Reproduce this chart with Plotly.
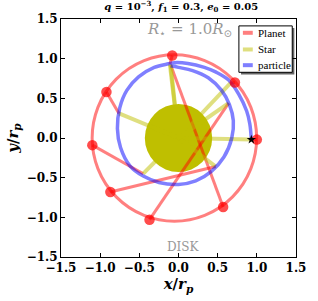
import plotly.graph_objects as go

# ---- data ----
# planet positions at the sampled times (markers)
planet_x = [1.00, 0.72, -0.08, -0.92, -1.10, -0.87, -0.37, 0.57]
planet_y = [-0.02, 0.70, 1.04, 0.58, -0.09, -0.68, -1.03, -0.87]
# particle positions at the same times
part_x = [0.93, 0.66, -0.11, -0.76, -0.45, 0.475, 0.64, -0.10]
part_y = [-0.02, 0.69, 0.93, 0.31, -0.45, -0.36, 0.44, 0.92]
# star position
star_x0, star_y0 = 0.0, 0.0
# particle trajectory
path_x = [0.93, 0.91, 0.87, 0.77, 0.64, 0.48, 0.33, 0.12, -0.05, -0.13, -0.31, -0.51,
          -0.66, -0.75, -0.78, -0.74, -0.62, -0.45, -0.25, 0.00, 0.22, 0.42, 0.58,
          0.68, 0.70, 0.65, 0.55, 0.38, 0.18, 0.00, -0.10]
path_y = [-0.02, 0.18, 0.34, 0.55, 0.73, 0.83, 0.89, 0.94, 0.95, 0.935, 0.89, 0.77,
          0.60, 0.38, 0.12, -0.12, -0.35, -0.48, -0.56, -0.585, -0.54, -0.42, -0.24,
          0.00, 0.22, 0.42, 0.60, 0.76, 0.85, 0.89, 0.91]
# orbital elements / sizes
orbit_a = 1.05
orbit_e = 0.05
star_radius = 0.43
ticks = [-1.5, -1.0, -0.5, 0.0, 0.5, 1.0, 1.5]
legend_names = ["Planet", "Star", "particle"]

RED = "rgba(255,0,0,0.5)"
YEL = "rgba(191,191,0,0.5)"
BLU = "rgba(0,0,255,0.5)"
OLIVE = "#bfbf00"
FONT = "DejaVu Serif"
LFONT = "Liberation Serif"

# spokes
red_x, red_y, yel_x, yel_y = [], [], [], []
for px, py, qx, qy in zip(planet_x, planet_y, part_x, part_y):
    red_x += [px, qx, None]
    red_y += [py, qy, None]
    yel_x += [star_x0, qx, None]
    yel_y += [star_y0, qy, None]

fig = go.Figure()
fig.add_trace(go.Scatter(x=red_x, y=red_y, mode="lines", name=legend_names[0],
                         showlegend=False, line=dict(color=RED, width=3)))
fig.add_trace(go.Scatter(x=yel_x, y=yel_y, mode="lines", name=legend_names[1],
                         showlegend=False, line=dict(color=YEL, width=4)))
fig.add_trace(go.Scatter(x=path_x, y=path_y, mode="lines", name=legend_names[2],
                         showlegend=False,
                         line=dict(color=BLU, width=3.5, shape="spline")))
fig.add_trace(go.Scatter(x=planet_x, y=planet_y, mode="markers", showlegend=False,
                         marker=dict(color="rgba(255,0,0,0.7)", size=10.5,
                                     line=dict(width=0))))
fig.add_trace(go.Scatter(x=[part_x[0]], y=[part_y[0]], mode="markers", showlegend=False,
                         marker=dict(symbol="star", color="black", size=7,
                                     line=dict(width=0))))

# planet orbit (ellipse with focus at origin) and star disk
cx = -orbit_a * orbit_e
b = orbit_a * (1 - orbit_e ** 2) ** 0.5
fig.add_shape(type="circle", xref="x", yref="y", x0=cx - orbit_a, x1=cx + orbit_a,
              y0=-b, y1=b, line=dict(color=RED, width=3), layer="below")
fig.add_shape(type="circle", xref="x", yref="y", x0=star_x0 - star_radius,
              x1=star_x0 + star_radius, y0=star_y0 - star_radius,
              y1=star_y0 + star_radius, fillcolor=OLIVE, line=dict(width=0),
              layer="below")

fig.add_annotation(x=0.14, y=1.37, xref="x", yref="y", showarrow=False,
                   text="<i>R</i><sub>⋆</sub> = 1.0<i>R</i><sub>⊙</sub>",
                   font=dict(family=FONT, size=15, color="#999999"))
fig.add_annotation(x=0.07, y=-1.37, xref="x", yref="y", showarrow=False,
                   text="DISK", font=dict(family=FONT, size=12, color="#999999"))

# legend box (matplotlib-style, with shadow)
lx0, lx1, ly0, ly1 = 0.757, 0.984, 0.776, 0.971
fig.add_shape(type="rect", xref="paper", yref="paper", x0=lx0 + 0.009, x1=lx1 + 0.009,
              y0=ly0 - 0.009, y1=ly1 - 0.009, fillcolor="rgba(0,0,0,0.6)",
              line=dict(width=0))
fig.add_shape(type="rect", xref="paper", yref="paper", x0=lx0, x1=lx1, y0=ly0, y1=ly1,
              fillcolor="white", line=dict(color="black", width=1))
for name, col, yy in zip(legend_names, [RED, YEL, BLU], [0.942, 0.872, 0.806]):
    fig.add_shape(type="line", xref="paper", yref="paper", x0=0.774, x1=0.816,
                  y0=yy, y1=yy, line=dict(color=col, width=4))
    fig.add_annotation(x=0.83, y=yy, xref="paper", yref="paper", showarrow=False,
                       xanchor="left", yanchor="middle", text=name,
                       font=dict(family=LFONT, size=11, color="black"))

axis_common = dict(range=[-1.5, 1.5], tickvals=ticks, tickformat=".1f",
                   showgrid=False, zeroline=False, showline=True, linecolor="black",
                   linewidth=1, mirror="allticks", ticks="inside", ticklen=4,
                   tickcolor="black",
                   tickfont=dict(family=FONT, size=12, color="black", weight="bold"))
fig.update_xaxes(**axis_common,
                 title=dict(text="<b><i>x</i>/<i>r</i><sub><i>p</i></sub></b>",
                            font=dict(family=FONT, size=15, color="black"), standoff=2))
fig.update_yaxes(**axis_common,
                 title=dict(text="<b><i>y</i>/<i>r</i><sub><i>p</i></sub></b>",
                            font=dict(family=FONT, size=15, color="black"), standoff=4))

fig.update_layout(
    width=318, height=301,
    margin=dict(l=60, r=15, t=16, b=44),
    paper_bgcolor="white", plot_bgcolor="white",
    title=dict(text="<b><i>q</i> = 10<sup>−3</sup>, <i>f</i><sub>1</sub> = 0.3, <i>e</i><sub>0</sub> = 0.05</b>",
               x=0.57, xanchor="center", y=0.99, yanchor="top",
               font=dict(family=FONT, size=10, color="black")),
    showlegend=False,
)

fig.write_html("out.html", config={"displayModeBar": False},
               post_script="document.body.style.margin='0';")
